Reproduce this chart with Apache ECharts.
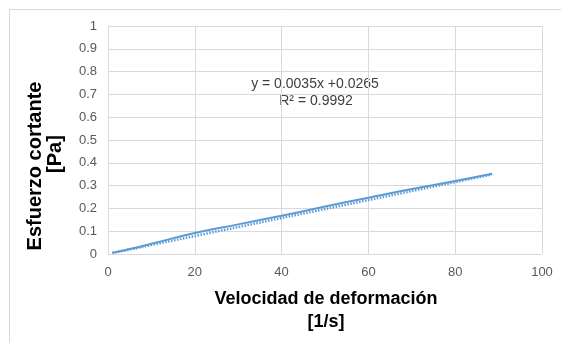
<!DOCTYPE html>
<html>
<head>
<meta charset="utf-8">
<script src="https://cdn.jsdelivr.net/npm/echarts@6/dist/echarts.min.js"></script>
<style>
  html, body { margin: 0; padding: 0; background: #fff; }
  #chart { width: 561px; height: 343px; }
</style>
</head>
<body>
<div id="chart"></div>
<script>
// Measured points (shear rate [1/s], shear stress [Pa])
const shearRate = [1, 5, 10, 20, 30, 40, 50, 60, 70, 80, 88.5];
const shearStress = [0.006, 0.022, 0.045, 0.092, 0.13, 0.168, 0.208, 0.247, 0.285, 0.32, 0.352];

// Linear trendline endpoints as drawn
const trendX = [1, 88.5];
const trendY = [0.004, 0.349];

const xTicks = [0, 20, 40, 60, 80, 100];
const yTicks = [0, 0.1, 0.2, 0.3, 0.4, 0.5, 0.6, 0.7, 0.8, 0.9, 1];

const xTitle = ['Velocidad de deformación', '[1/s]'];
const yTitle = ['Esfuerzo cortante', '[Pa]'];
const trendLabel = 'y = 0.0035x +0.0265';
const r2Label = 'R² = 0.9992';

const font = 'Liberation Sans, Arial, sans-serif';
const chart = echarts.init(document.getElementById('chart'));

const titleText = (text, x, y, size, rotate) => ({
  type: 'text',
  x: x, y: y,
  rotation: rotate ? Math.PI / 2 : 0,
  style: {
    text: text, font: 'bold ' + size + 'px ' + font, fill: '#000',
    align: 'center', verticalAlign: 'middle'
  },
  silent: true
});

const option = {
  animation: false,
  grid: { left: 108, right: 19, top: 26, bottom: 89, containLabel: false },
  xAxis: {
    type: 'value',
    min: xTicks[0],
    max: xTicks[xTicks.length - 1],
    interval: 20,
    axisLine: { show: false },
    axisTick: { show: false },
    axisLabel: { fontFamily: font, fontSize: 13, color: '#595959', margin: 12 },
    splitLine: { show: true, lineStyle: { color: '#d9d9d9', width: 1 } }
  },
  yAxis: {
    type: 'value',
    min: yTicks[0],
    max: yTicks[yTicks.length - 1],
    interval: 0.1,
    axisLine: { show: true, lineStyle: { color: '#d9d9d9' } },
    axisTick: { show: false },
    axisLabel: {
      fontFamily: font, fontSize: 13, color: '#595959', margin: 11,
      formatter: v => String(Math.round(v * 10) / 10)
    },
    splitLine: { show: true, lineStyle: { color: '#d9d9d9', width: 1 } }
  },
  series: [
    {
      name: 'Tendencia',
      type: 'line',
      data: trendX.map((x, i) => [x, trendY[i]]),
      symbol: 'none',
      lineStyle: { color: '#5b9bd5', width: 2.5, type: [1.5, 1.5] },
      z: 1
    },
    {
      name: 'Datos',
      type: 'line',
      data: shearRate.map((x, i) => [x, shearStress[i]]),
      symbol: 'none',
      smooth: true,
      lineStyle: { color: '#5b9bd5', width: 2 },
      z: 2
    }
  ],
  graphic: [
    {
      type: 'polyline',
      shape: { points: [[9.5, 343], [9.5, 9.5], [561, 9.5]] },
      style: { stroke: '#d9d9d9', lineWidth: 1, fill: null },
      silent: true
    },
    titleText(xTitle[0], 326, 299, 18, false),
    titleText(xTitle[1], 326, 322, 18, false),
    titleText(yTitle[0], 35, 166, 20, true),
    titleText(yTitle[1], 55, 154, 20, true),
    {
      type: 'text',
      x: 315, y: 84,
      style: { text: trendLabel, font: '14px ' + font, fill: '#404040', align: 'center', verticalAlign: 'middle' }
    },
    {
      type: 'text',
      x: 316, y: 101,
      style: { text: r2Label, font: '14px ' + font, fill: '#404040', align: 'center', verticalAlign: 'middle' }
    }
  ]
};

chart.setOption(option);
</script>
</body>
</html>
